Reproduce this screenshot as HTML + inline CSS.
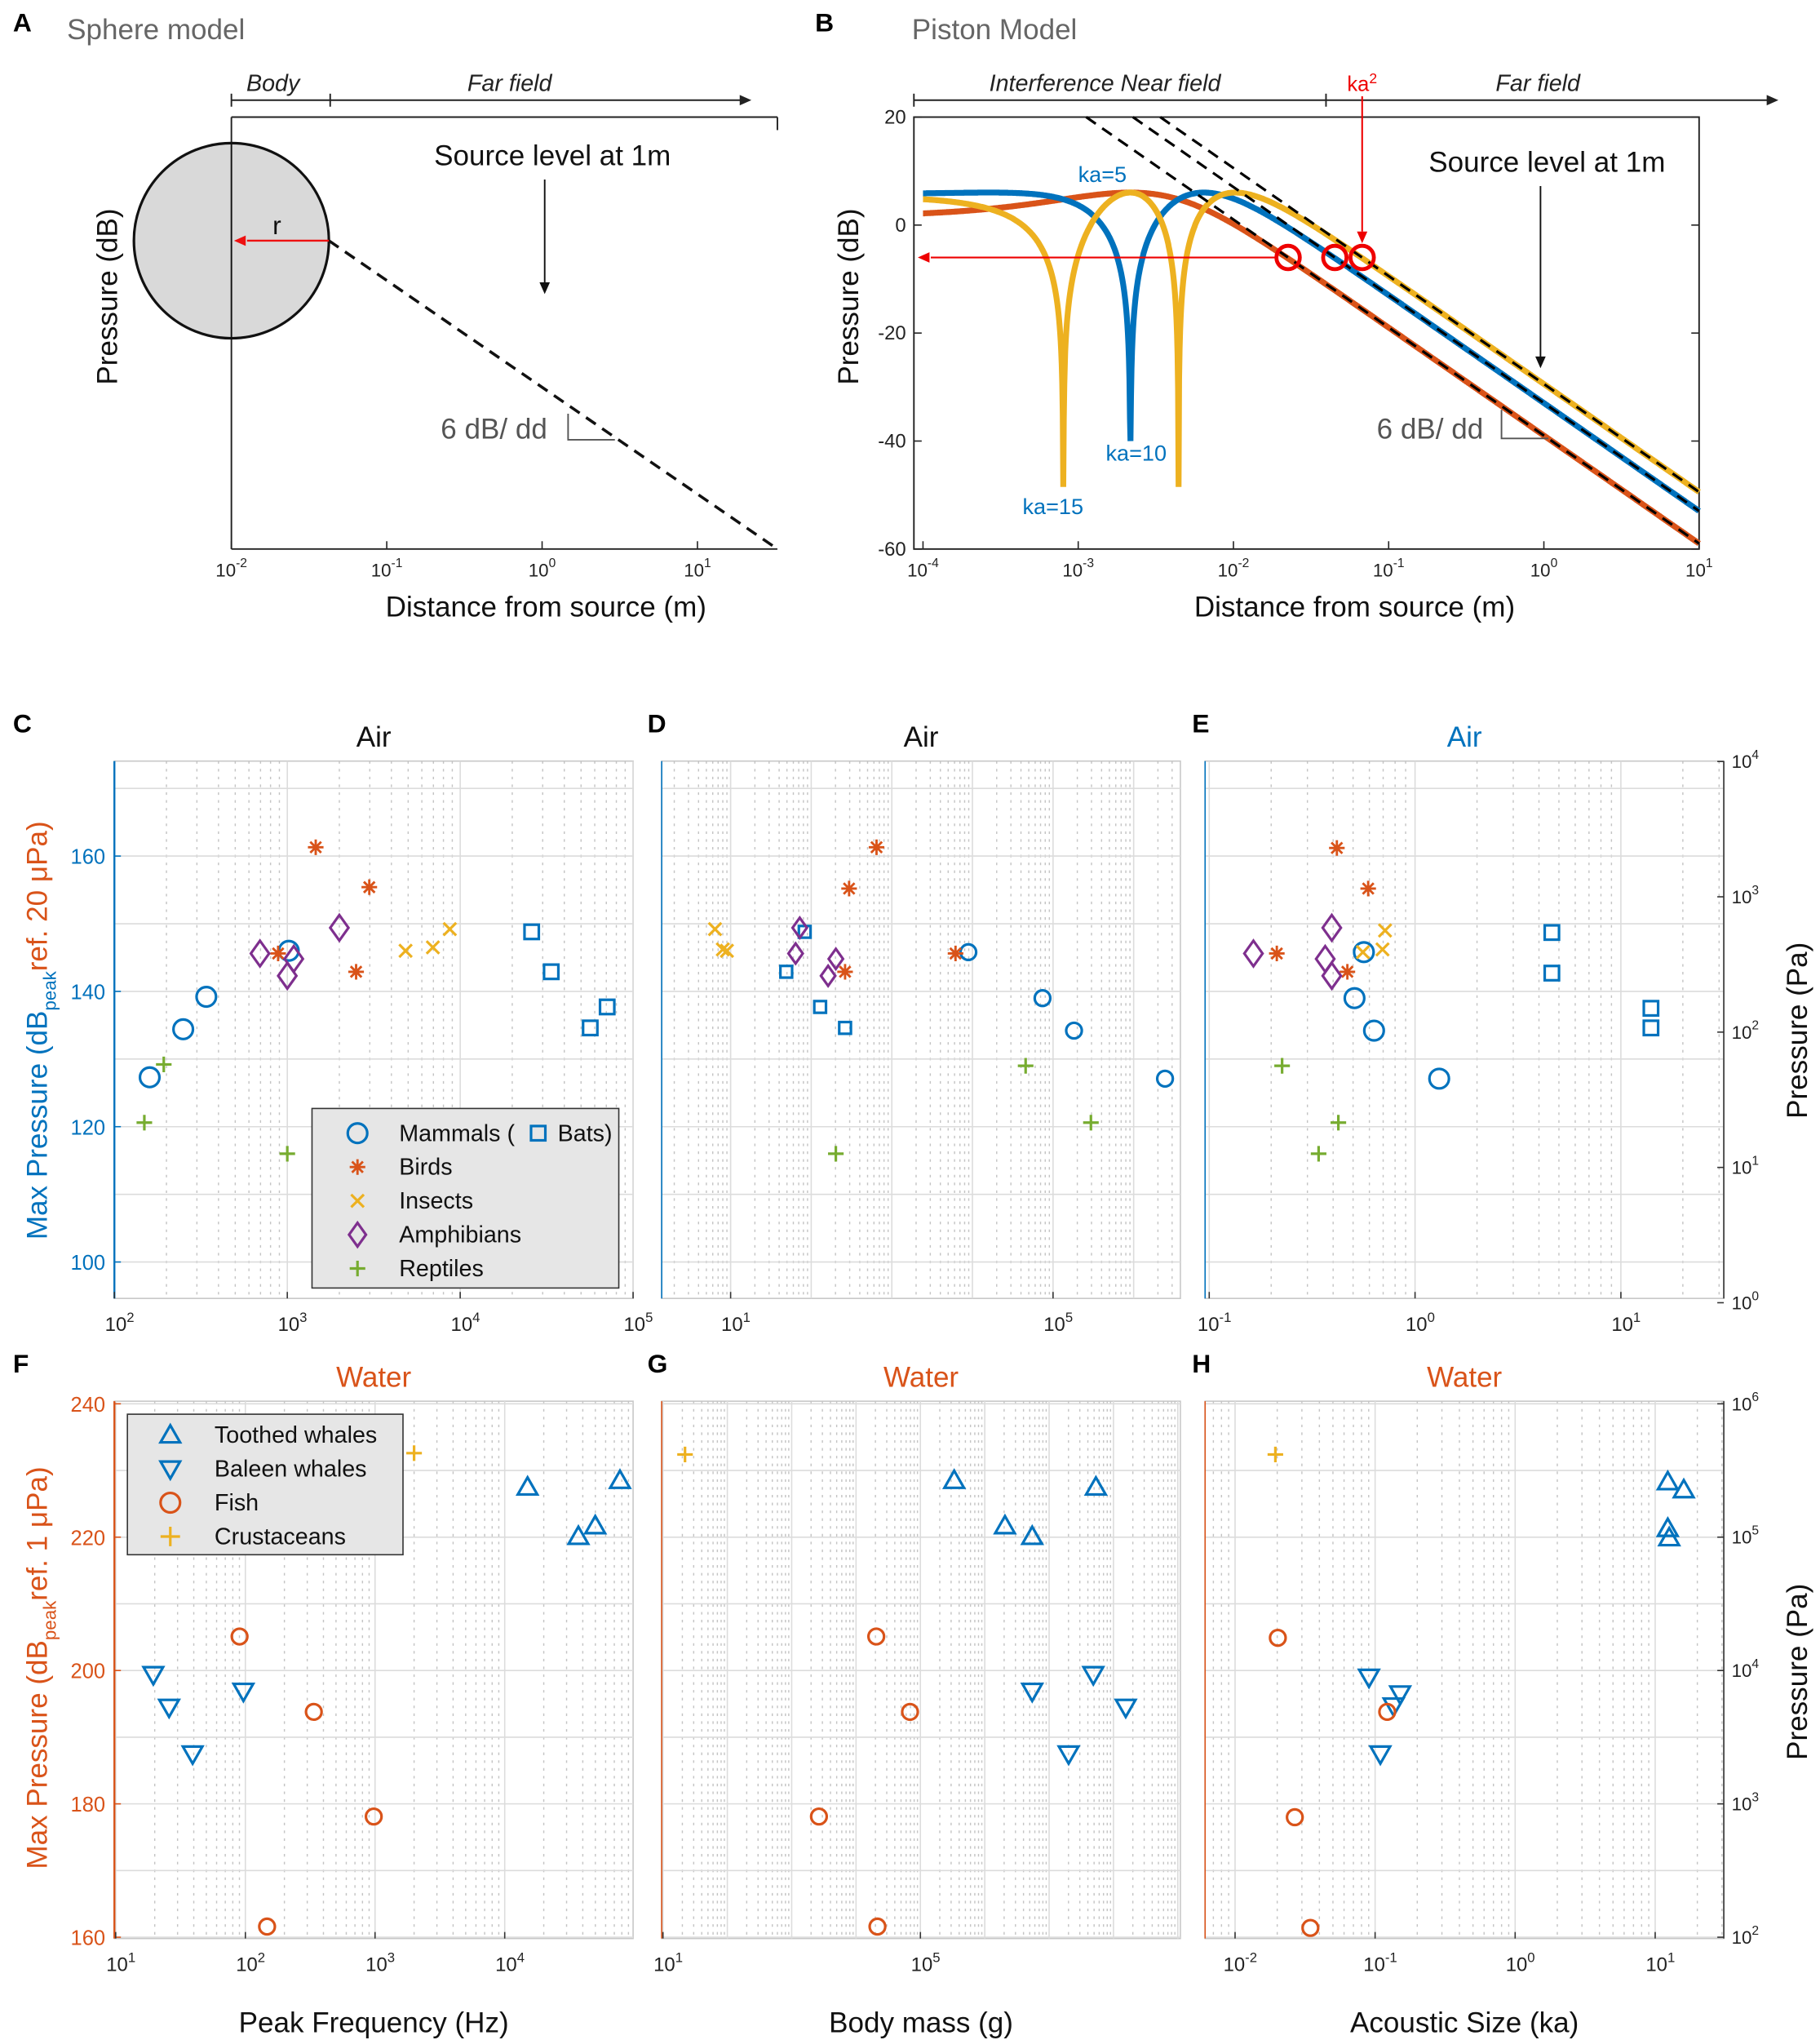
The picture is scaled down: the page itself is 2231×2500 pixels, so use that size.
<!DOCTYPE html>
<html><head><meta charset="utf-8"><title>Sphere and piston models; max pressure in air and water</title>
<style>
html,body{margin:0;padding:0;background:#fff;}
svg{display:block;font-family:"Liberation Sans",Arial,sans-serif;}
</style></head>
<body>
<svg id="fig" width="2231" height="2500" viewBox="0 0 1400 1568" preserveAspectRatio="none" xmlns="http://www.w3.org/2000/svg"></svg>
<script>
// ---------- Panel B model parameters ----------
const pistonKa = [5, 10, 15];
const pistonRadius = 0.0045;
// ---------- Panel C (x: peak frequency Hz, y: dB) ----------
const C_mammals_x = [160, 250, 340, 1020];
const C_mammals_y = [127.3, 134.4, 139.2, 146.0];
const C_bats_x = [25900, 33600, 56500, 70800];
const C_bats_y = [148.8, 142.9, 134.6, 137.7];
const C_birds_x = [1460, 2980, 885, 2500];
const C_birds_y = [161.3, 155.4, 145.6, 142.9];
const C_insects_x = [4830, 6950, 8710];
const C_insects_y = [146.0, 146.5, 149.2];
const C_amph_x = [695, 2000, 1000, 1090];
const C_amph_y = [145.6, 149.4, 142.3, 144.8];
const C_rept_x = [149, 193, 1000];
const C_rept_y = [120.6, 129.2, 116.0];
// ---------- Panel D (x: body mass g) ----------
const D_mammals_x = [8900, 74000, 182000, 2450000];
const D_mammals_y = [145.8, 139.0, 134.2, 127.1];
const D_bats_x = [83, 49, 129, 263];
const D_bats_y = [148.8, 142.9, 137.7, 134.6];
const D_birds_x = [646, 295, 263, 6170];
const D_birds_y = [161.3, 155.2, 142.9, 145.6];
const D_insects_x = [6.4, 8.0, 9.0];
const D_insects_y = [149.2, 146.2, 146.0];
const D_amph_x = [72, 64, 202, 162];
const D_amph_y = [149.4, 145.6, 144.8, 142.3];
const D_rept_x = [202, 45700, 295000];
const D_rept_y = [116.0, 129.0, 120.6];
// ---------- Panel E (x: acoustic size ka) ----------
const E_mammals_x = [0.564, 0.508, 0.632, 1.31];
const E_mammals_y = [145.8, 139.0, 134.2, 127.1];
const E_bats_x = [4.62, 4.62, 14.0, 14.0];
const E_bats_y = [148.7, 142.7, 137.5, 134.6];
const E_birds_x = [0.417, 0.592, 0.213, 0.469];
const E_birds_y = [161.2, 155.2, 145.6, 142.9];
const E_insects_x = [0.715, 0.695, 0.558];
const E_insects_y = [149.0, 146.2, 145.8];
const E_amph_x = [0.164, 0.394, 0.366, 0.394];
const E_amph_y = [145.6, 149.4, 144.8, 142.3];
const E_rept_x = [0.226, 0.424, 0.340];
const E_rept_y = [129.0, 120.6, 116.0];
// ---------- Panel F (x: peak frequency Hz) ----------
const F_toothed_x = [15000, 37000, 49900, 77400];
const F_toothed_y = [227.5, 220.1, 221.7, 228.5];
const F_baleen_x = [19.5, 25.8, 39.2, 96.6];
const F_baleen_y = [199.4, 194.5, 187.5, 196.9];
const F_fish_x = [90.2, 337, 977, 147];
const F_fish_y = [205.1, 193.8, 178.1, 161.6];
const F_crust_x = [2000];
const F_crust_y = [232.6];
// ---------- Panel G (x: body mass g) ----------
const G_toothed_x = [335000, 2060000, 5460000, 53300000];
const G_toothed_y = [228.5, 221.7, 220.1, 227.5];
const G_baleen_x = [5460000, 20100000, 48600000, 155000000];
const G_baleen_y = [196.9, 187.5, 199.4, 194.5];
const G_fish_x = [20600, 68900, 2650, 21500];
const G_fish_y = [205.1, 193.8, 178.1, 161.6];
const G_crust_x = [22];
const G_crust_y = [232.4];
// ---------- Panel H (x: acoustic size ka) ----------
const H_toothed_x = [12.3, 16.0, 12.3, 12.6];
const H_toothed_y = [228.3, 227.1, 221.3, 219.9];
const H_baleen_x = [0.0904, 0.1355, 0.151, 0.109];
const H_baleen_y = [199.0, 194.7, 196.5, 187.5];
const H_fish_x = [0.0202, 0.122, 0.0267, 0.0345];
const H_fish_y = [204.9, 193.8, 178.0, 161.4];
const H_crust_x = [0.0194];
const H_crust_y = [232.4];

const NS = 'http://www.w3.org/2000/svg';
const svg = document.getElementById('fig');
const BLUE = '#0072BD', ORANGE = '#D95319', YELLOW = '#EDB120', PURPLE = '#7E2F8E', GREEN = '#77AC30';

function mk(tag, attrs, parent, name) {
  const el = document.createElementNS(NS, tag);
  for (const k in attrs) el.setAttribute(k, attrs[k]);
  
  
  (parent || svg).appendChild(el);
  return el;
}
function txt(x, y, s, o, name, parent) {
  o = o || {};
  const t = mk('text', {x: x, y: y, 'font-size': o.size || 14, fill: o.fill || '#222',
    'text-anchor': o.anchor || 'middle', 'font-weight': o.weight || 'normal',
    'font-style': o.style || 'normal'}, parent, name);
  if (o.rot) t.setAttribute('transform', 'rotate(' + o.rot + ' ' + x + ' ' + y + ')');
  t.textContent = s;
  return t;
}
function pow10(x, y, e, o, name, parent) {
  o = o || {};
  const t = mk('text', {x: x, y: y, 'font-size': o.size || 14, fill: o.fill || '#222',
    'text-anchor': o.anchor || 'middle'}, parent, name);
  const a = document.createElementNS(NS, 'tspan'); a.textContent = '10'; t.appendChild(a);
  const b = document.createElementNS(NS, 'tspan'); b.setAttribute('dy', '-7');
  b.setAttribute('font-size', (o.size || 14) * 0.7); b.textContent = e; t.appendChild(b);
  return t;
}
function line(x1, y1, x2, y2, st, w, name, parent, dash) {
  const l = mk('line', {x1: x1, y1: y1, x2: x2, y2: y2, stroke: st, 'stroke-width': w}, parent, name);
  if (dash) l.setAttribute('stroke-dasharray', dash);
  return l;
}
function arrowHead(x, y, dir, col, name, parent) {
  const s = 9, w = 4;
  let p;
  if (dir === 'right') p = [[x, y], [x - s, y - w], [x - s, y + w]];
  if (dir === 'left') p = [[x, y], [x + s, y - w], [x + s, y + w]];
  if (dir === 'down') p = [[x, y], [x - w, y - s], [x + w, y - s]];
  mk('polygon', {points: p.map(q => q.join(',')).join(' '), fill: col}, parent, name);
}
function marker(g, type, cx, cy, col, sz, name) {
  const sw = 2;
  if (type === 'circle') mk('circle', {cx: cx, cy: cy, r: sz, fill: 'none', stroke: col, 'stroke-width': sw}, g, name);
  else if (type === 'square') mk('rect', {x: cx - sz, y: cy - sz, width: 2 * sz, height: 2 * sz, fill: 'none', stroke: col, 'stroke-width': sw}, g, name);
  else if (type === 'diamond') mk('polygon', {points: [cx, cy - sz * 1.4, cx + sz, cy, cx, cy + sz * 1.4, cx - sz, cy].join(','), fill: 'none', stroke: col, 'stroke-width': sw}, g, name);
  else if (type === 'triUp') mk('polygon', {points: [cx, cy - sz, cx + sz, cy + sz * 0.75, cx - sz, cy + sz * 0.75].join(','), fill: 'none', stroke: col, 'stroke-width': sw}, g, name);
  else if (type === 'triDown') mk('polygon', {points: [cx, cy + sz, cx + sz, cy - sz * 0.75, cx - sz, cy - sz * 0.75].join(','), fill: 'none', stroke: col, 'stroke-width': sw}, g, name);
  else if (type === 'plus') mk('path', {d: `M${cx - sz} ${cy}H${cx + sz}M${cx} ${cy - sz}V${cy + sz}`, stroke: col, 'stroke-width': sw, fill: 'none'}, g, name);
  else if (type === 'x') { const d = sz * 0.75; mk('path', {d: `M${cx - d} ${cy - d}L${cx + d} ${cy + d}M${cx - d} ${cy + d}L${cx + d} ${cy - d}`, stroke: col, 'stroke-width': sw, fill: 'none'}, g, name); }
  else if (type === 'asterisk') { const d = sz * 0.7; mk('path', {d: `M${cx - sz} ${cy}H${cx + sz}M${cx} ${cy - sz}V${cy + sz}M${cx - d} ${cy - d}L${cx + d} ${cy + d}M${cx - d} ${cy + d}L${cx + d} ${cy - d}`, stroke: col, 'stroke-width': 1.8, fill: 'none'}, g, name); }
}

// ================= Panel A =================
(function () {
  const g = mk('g', {}, svg, 'panel-a-sphere-model');
  txt(10, 24, 'A', {size: 20, weight: 'bold', anchor: 'start', fill: '#000'}, 'panel-label-a', g);
  txt(120, 30, 'Sphere model', {size: 22, fill: '#666'}, 'panel-a-title', g);
  const ax = mk('g', {}, g, 'panel-a-axes');
  line(178, 90, 598, 90, '#222', 1.2, 'top-axis', ax);
  line(178, 90, 178, 422, '#222', 1.2, 'y-axis', ax);
  line(178, 422, 598, 422, '#222', 1.2, 'x-axis', ax);
  line(598, 90, 598, 100, '#222', 1.2, 'right-tick', ax);
  const xA = L => 178 + (L + 2) * 119.5;
  [-2, -1, 0, 1].forEach(L => { line(xA(L), 422, xA(L), 416, '#222', 1, 'x-tick', ax); pow10(xA(L), 443, String(L), {size: 14}, 'x-tick-label', ax); });
  txt(420, 474, 'Distance from source (m)', {size: 22, fill: '#111'}, 'x-axis-title', g);
  txt(90, 228, 'Pressure (dB)', {size: 22, fill: '#111', rot: -90}, 'y-axis-title', g);
  line(178, 77, 570, 77, '#222', 1.2, 'zone-axis', g); arrowHead(578, 77, 'right', '#222', 'zone-arrow-head', g);
  line(178, 72, 178, 82, '#222', 1.2, 'zone-tick', g); line(254, 72, 254, 82, '#222', 1.2, 'zone-tick', g);
  txt(210, 70, 'Body', {size: 18, style: 'italic'}, 'body-zone-label', g);
  txt(392, 70, 'Far field', {size: 18, style: 'italic'}, 'far-field-label', g);
  mk('circle', {cx: 178, cy: 185, r: 75, fill: '#d9d9d9', stroke: '#111', 'stroke-width': 2}, g, 'sphere');
  line(178, 110, 178, 260, '#111', 1.2, 'sphere-axis', g);
  line(253, 185, 598, 422, '#111', 2.2, 'spreading-line', g, '9,6');
  line(253, 185, 190, 185, '#e11', 1.5, 'radius-arrow', g); arrowHead(180, 185, 'left', '#e11', 'radius-arrow-head', g);
  txt(213, 180, 'r', {size: 20, fill: '#111'}, 'radius-label', g);
  txt(425, 127, 'Source level at 1m', {size: 22, fill: '#111'}, 'source-level-label', g);
  line(419, 138, 419, 218, '#111', 1.2, 'source-level-arrow', g); arrowHead(419, 226, 'down', '#111', 'source-level-arrow-head', g);
  txt(380, 337, '6 dB/ dd', {size: 22, fill: '#555'}, 'slope-label', g);
  mk('path', {d: 'M437 318V338H473', fill: 'none', stroke: '#555', 'stroke-width': 1.2}, g, 'slope-marker');
})();

// ================= Panel B =================
(function () {
  const g = mk('g', {}, svg, 'panel-b-piston-model');
  txt(627, 24, 'B', {size: 20, weight: 'bold', anchor: 'start', fill: '#000'}, 'panel-label-b', g);
  txt(765, 30, 'Piston Model', {size: 22, fill: '#666'}, 'panel-b-title', g);
  const X0 = 703, X1 = 1307, Y0 = 90, Y1 = 422;
  const sx = z => 1307 + (Math.log10(z) - 1) * 119.4;
  const sy = db => 173 - db * 4.15;
  const ax = mk('g', {}, g, 'panel-b-axes');
  mk('rect', {x: X0, y: Y0, width: X1 - X0, height: Y1 - Y0, fill: 'none', stroke: '#222', 'stroke-width': 1.2}, ax, 'plot-frame');
  [20, 0, -20, -40, -60].forEach(v => { line(X0, sy(v), X0 + 6, sy(v), '#222', 1, 'y-tick', ax); line(X1, sy(v), X1 - 6, sy(v), '#222', 1, 'y-tick-right', ax); txt(697, sy(v) + 5, String(v), {size: 15, anchor: 'end'}, 'y-tick-label', ax); });
  [-4, -3, -2, -1, 0, 1].forEach(L => { const x = sx(Math.pow(10, L)); line(x, Y1, x, Y1 - 6, '#222', 1, 'x-tick', ax); pow10(x, 443, String(L), {size: 14}, 'x-tick-label', ax); });
  txt(1042, 474, 'Distance from source (m)', {size: 22, fill: '#111'}, 'x-axis-title', g);
  txt(660, 228, 'Pressure (dB)', {size: 22, fill: '#111', rot: -90}, 'y-axis-title', g);
  line(703, 77, 1360, 77, '#222', 1.2, 'zone-axis', g); arrowHead(1368, 77, 'right', '#222', 'zone-arrow-head', g);
  line(703, 72, 703, 82, '#222', 1.2, 'zone-tick', g); line(1020, 72, 1020, 82, '#222', 1.2, 'zone-tick', g);
  txt(850, 70, 'Interference Near field', {size: 18, style: 'italic'}, 'near-field-label', g);
  txt(1183, 70, 'Far field', {size: 18, style: 'italic'}, 'far-field-label', g);
  const cols = [ORANGE, BLUE, YELLOW];
  const curves = mk('g', {}, g, 'piston-curves');
  pistonKa.forEach((ka, i) => {
    const c = ka * pistonRadius;
    let d = '';
    for (let j = 0; j <= 1500; j++) {
      const z = Math.pow(10, -4 + 5 * j / 1500);
      const za = z / pistonRadius;
      let p = 2 * Math.abs(Math.sin(ka / 2 * (Math.sqrt(za * za + 1) - za)));
      let db = 20 * Math.log10(Math.max(p, 1e-9));
      if (z < c) db = Math.max(db, ka === 10 ? -40 : -48.5);
      d += (j ? 'L' : 'M') + sx(z).toFixed(1) + ' ' + sy(db).toFixed(1);
    }
    mk('path', {d: d, fill: 'none', stroke: cols[i], 'stroke-width': 4.5}, curves, 'piston-curve-ka' + ka);
  });
  pistonKa.forEach((ka, i) => {
    const c = ka * pistonRadius;
    const zStart = c / 20, zEnd = 10;
    const dbF = z => 20 * Math.log10(c / (2 * z));
    line(sx(zStart), sy(dbF(zStart)), sx(zEnd), sy(dbF(zEnd)), '#000', 2, 'far-field-asymptote-ka' + ka, curves, '9,6');
  });
  pistonKa.forEach((ka, i) => {
    const c = ka * pistonRadius;
    mk('circle', {cx: sx(c), cy: sy(-6), r: 9, fill: 'none', stroke: '#e00', 'stroke-width': 3}, curves, 'ka2-crossing-ka' + ka);
  });
  const cmin = pistonKa[0] * pistonRadius, cmax = pistonKa[pistonKa.length - 1] * pistonRadius;
  line(sx(cmin) - 9, sy(-6), 716, sy(-6), '#e00', 1.3, 'level-arrow', g); arrowHead(706, sy(-6), 'left', '#e00', 'level-arrow-head', g);
  line(sx(cmax), 74, sx(cmax), 178, '#e00', 1.3, 'ka2-arrow', g); arrowHead(sx(cmax), 187, 'down', '#e00', 'ka2-arrow-head', g);
  const k2 = txt(sx(cmax), 70, 'ka', {size: 16, fill: '#e00'}, 'ka2-label', g);
  const sup = document.createElementNS(NS, 'tspan'); sup.setAttribute('dy', '-6'); sup.setAttribute('font-size', '11'); sup.textContent = '2'; k2.appendChild(sup);
  txt(848, 140, 'ka=5', {size: 17, fill: BLUE}, 'ka5-label', g);
  txt(874, 354, 'ka=10', {size: 17, fill: BLUE}, 'ka10-label', g);
  txt(810, 395, 'ka=15', {size: 17, fill: BLUE}, 'ka15-label', g);
  txt(1190, 132, 'Source level at 1m', {size: 22, fill: '#111'}, 'source-level-label', g);
  line(1185, 143, 1185, 275, '#111', 1.2, 'source-level-arrow', g); arrowHead(1185, 283, 'down', '#111', 'source-level-arrow-head', g);
  txt(1100, 337, '6 dB/ dd', {size: 22, fill: '#555'}, 'slope-label', g);
  mk('path', {d: 'M1155 315V337H1191', fill: 'none', stroke: '#555', 'stroke-width': 1.2}, g, 'slope-marker');
})();

// ================= scatter panels =================
function panel(cfg) {
  const g = mk('g', {}, svg, cfg.name);
  const {x0, x1, y0, y1, Lmin, Lmax} = cfg;
  const sx = v => x0 + (Math.log10(v) - Lmin) / (Lmax - Lmin) * (x1 - x0);
  const sy = cfg.sy;
  mk('rect', {x: x0, y: y0, width: x1 - x0, height: y1 - y0, fill: '#fff', stroke: '#c8c8c8', 'stroke-width': 1}, g, 'plot-area');
  const grid = mk('g', {}, g, 'grid');
  for (let d = Math.floor(Lmin); d <= Math.ceil(Lmax); d++) {
    for (let m = 1; m <= 9; m++) {
      const L = d + Math.log10(m);
      if (L < Lmin || L > Lmax) continue;
      const x = sx(Math.pow(10, L));
      if (m === 1) line(x, y0, x, y1, '#dcdcdc', 1, 'major-grid-x', grid);
      else line(x, y0, x, y1, '#c4c4c4', 0.9, 'minor-grid-x', grid, '2,4');
    }
  }
  cfg.yGrid.forEach(v => line(x0, sy(v), x1, sy(v), '#dcdcdc', 1, 'major-grid-y', grid));
  cfg.yTicks.forEach(v => { line(x0, sy(v), x0 + 5, sy(v), cfg.leftCol, 1, 'y-tick', g); });
  if (cfg.leftAxis) {
    line(x0, y0, x0, y1, cfg.leftCol, 1.5, 'left-axis', g);
    cfg.yTicks.forEach(v => txt(x0 - 7, sy(v) + 6, String(v), {size: 16, anchor: 'end', fill: cfg.leftCol}, 'y-tick-label', g));
  } else line(x0, y0, x0, y1, cfg.leftCol, 1, 'left-axis', g);
  if (cfg.rightTicks) {
    line(x1, y0, x1, y1, '#333', 1, 'right-axis', g);
    cfg.rightTicks.forEach(e => { const y = sy(cfg.paToDb(Math.pow(10, e))); line(x1, y, x1 - 5, y, '#333', 1, 'right-tick', g); pow10(x1 + 6, y + 5, String(e), {size: 14, anchor: 'start'}, 'right-tick-label', g); });
  }
  cfg.xTicks.forEach(e => { const x = sx(Math.pow(10, e)); line(x, y1, x, y1 - 5, '#333', 1, 'x-tick', g); pow10(x + 4, y1 + 25, String(e), {size: 15}, 'x-tick-label', g); });
  txt((x0 + x1) / 2, y0 - 11, cfg.title, {size: 22, fill: cfg.titleCol}, 'panel-title', g);
  txt(cfg.letterX, y0 - 22, cfg.letter, {size: 20, weight: 'bold', anchor: 'start', fill: '#000'}, 'panel-label', g);
  if (cfg.xLabel) txt((x0 + x1) / 2, 1562, cfg.xLabel, {size: 22, fill: '#111'}, 'x-axis-title', g);
  const marks = mk('g', {}, g, 'data-points');
  cfg.series.forEach(s => {
    const sg = mk('g', {}, marks, 'series-' + s.key);
    s.x.forEach((v, i) => marker(sg, s.type, sx(v), sy(s.y[i]), s.col, s.size, s.key + '-point'));
  });
  return g;
}
const syTop = v => 970 - (v - 100) * 5.2;
const syBot = v => 1489 - (v - 160) * 5.125;
const airGridY = [100, 110, 120, 130, 140, 150, 160, 170];
const waterGridY = [160, 170, 180, 190, 200, 210, 220, 230, 240];
function airSeries(p, big) {
  return [
    {key: 'mammals', x: p.mx, y: p.my, type: 'circle', col: BLUE, size: big ? 7.5 : 6},
    {key: 'bats', x: p.bx, y: p.by, type: 'square', col: BLUE, size: big ? 5.5 : 4.5},
    {key: 'birds', x: p.brx, y: p.bry, type: 'asterisk', col: ORANGE, size: 6},
    {key: 'insects', x: p.ix, y: p.iy, type: 'x', col: YELLOW, size: 6.5},
    {key: 'amphibians', x: p.ax, y: p.ay, type: 'diamond', col: PURPLE, size: big ? 7 : 5.5},
    {key: 'reptiles', x: p.rx, y: p.ry, type: 'plus', col: GREEN, size: 6}];
}
function waterSeries(p) {
  return [
    {key: 'toothed-whales', x: p.tx, y: p.ty, type: 'triUp', col: BLUE, size: 7.5},
    {key: 'baleen-whales', x: p.bx, y: p.by, type: 'triDown', col: BLUE, size: 7.5},
    {key: 'fish', x: p.fx, y: p.fy, type: 'circle', col: ORANGE, size: 6},
    {key: 'crustaceans', x: p.cx, y: p.cy, type: 'plus', col: YELLOW, size: 6}];
}
const paToDbAir = pa => 20 * Math.log10(pa / 20e-6);
const paToDbWater = pa => 20 * Math.log10(pa / 1e-6);

panel({name: 'panel-c-air-frequency', letter: 'C', letterX: 10, title: 'Air', titleCol: '#111', x0: 88, x1: 487, y0: 585, y1: 998, Lmin: 2, Lmax: 5, sy: syTop, yGrid: airGridY, yTicks: [100, 120, 140, 160], leftAxis: true, leftCol: BLUE, xTicks: [2, 3, 4, 5],
  series: airSeries({mx: C_mammals_x, my: C_mammals_y, bx: C_bats_x, by: C_bats_y, brx: C_birds_x, bry: C_birds_y, ix: C_insects_x, iy: C_insects_y, ax: C_amph_x, ay: C_amph_y, rx: C_rept_x, ry: C_rept_y}, true)});
panel({name: 'panel-d-air-mass', letter: 'D', letterX: 498, title: 'Air', titleCol: '#111', x0: 509, x1: 908, y0: 585, y1: 998, Lmin: 0.145, Lmax: 6.58, sy: syTop, yGrid: airGridY, yTicks: [], leftAxis: false, leftCol: BLUE, xTicks: [1, 5],
  series: airSeries({mx: D_mammals_x, my: D_mammals_y, bx: D_bats_x, by: D_bats_y, brx: D_birds_x, bry: D_birds_y, ix: D_insects_x, iy: D_insects_y, ax: D_amph_x, ay: D_amph_y, rx: D_rept_x, ry: D_rept_y}, false)});
panel({name: 'panel-e-air-acoustic-size', letter: 'E', letterX: 917, title: 'Air', titleCol: BLUE, x0: 927, x1: 1326, y0: 585, y1: 998, Lmin: -1.02, Lmax: 1.50, sy: syTop, yGrid: airGridY, yTicks: [], leftAxis: false, leftCol: BLUE, xTicks: [-1, 0, 1], rightTicks: [0, 1, 2, 3, 4], paToDb: paToDbAir,
  series: airSeries({mx: E_mammals_x, my: E_mammals_y, bx: E_bats_x, by: E_bats_y, brx: E_birds_x, bry: E_birds_y, ix: E_insects_x, iy: E_insects_y, ax: E_amph_x, ay: E_amph_y, rx: E_rept_x, ry: E_rept_y}, true)});
panel({name: 'panel-f-water-frequency', letter: 'F', letterX: 10, title: 'Water', titleCol: ORANGE, x0: 88, x1: 487, y0: 1077, y1: 1490, Lmin: 0.99, Lmax: 4.99, sy: syBot, yGrid: waterGridY, yTicks: [160, 180, 200, 220, 240], leftAxis: true, leftCol: ORANGE, xTicks: [1, 2, 3, 4], xLabel: 'Peak Frequency (Hz)',
  series: waterSeries({tx: F_toothed_x, ty: F_toothed_y, bx: F_baleen_x, by: F_baleen_y, fx: F_fish_x, fy: F_fish_y, cx: F_crust_x, cy: F_crust_y})});
panel({name: 'panel-g-water-mass', letter: 'G', letterX: 498, title: 'Water', titleCol: ORANGE, x0: 509, x1: 908, y0: 1077, y1: 1490, Lmin: 0.98, Lmax: 9.04, sy: syBot, yGrid: waterGridY, yTicks: [], leftAxis: false, leftCol: ORANGE, xTicks: [1, 5], xLabel: 'Body mass (g)',
  series: waterSeries({tx: G_toothed_x, ty: G_toothed_y, bx: G_baleen_x, by: G_baleen_y, fx: G_fish_x, fy: G_fish_y, cx: G_crust_x, cy: G_crust_y})});
panel({name: 'panel-h-water-acoustic-size', letter: 'H', letterX: 917, title: 'Water', titleCol: ORANGE, x0: 927, x1: 1326, y0: 1077, y1: 1490, Lmin: -2.214, Lmax: 1.49, sy: syBot, yGrid: waterGridY, yTicks: [], leftAxis: false, leftCol: ORANGE, xTicks: [-2, -1, 0, 1], rightTicks: [2, 3, 4, 5, 6], paToDb: paToDbWater, xLabel: 'Acoustic Size (ka)',
  series: waterSeries({tx: H_toothed_x, ty: H_toothed_y, bx: H_baleen_x, by: H_baleen_y, fx: H_fish_x, fy: H_fish_y, cx: H_crust_x, cy: H_crust_y})});

// ---------- y-axis titles ----------
(function () {
  function yTitle(x, y, parts, name) {
    const t = mk('text', {x: x, y: y, 'font-size': 22, 'text-anchor': 'middle', transform: `rotate(-90 ${x} ${y})`}, svg, name);
    parts.forEach(p => { const s = document.createElementNS(NS, 'tspan'); s.textContent = p.t; s.setAttribute('fill', p.c); if (p.dy) s.setAttribute('dy', p.dy); if (p.fs) s.setAttribute('font-size', p.fs); t.appendChild(s); });
  }
  yTitle(36, 792, [{t: 'Max Pressure (dB', c: BLUE}, {t: 'peak', c: BLUE, dy: 7, fs: 14}, {t: 'ref. 20 \u03bcPa)', c: ORANGE, dy: -7}], 'y-axis-title-air');
  yTitle(36, 1282, [{t: 'Max Pressure (dB', c: ORANGE}, {t: 'peak', c: ORANGE, dy: 7, fs: 14}, {t: 'ref. 1 \u03bcPa)', c: ORANGE, dy: -7}], 'y-axis-title-water');
  txt(1390, 792, 'Pressure (Pa)', {size: 22, fill: '#111', rot: -90}, 'right-axis-title-air');
  txt(1390, 1285, 'Pressure (Pa)', {size: 22, fill: '#111', rot: -90}, 'right-axis-title-water');
})();

// ---------- legends ----------
(function () {
  const lg = mk('g', {}, svg, 'legend-air');
  mk('rect', {x: 240, y: 852, width: 236, height: 138, fill: '#e6e6e6', stroke: '#333', 'stroke-width': 1}, lg, 'legend-box');
  const items = [['circle', BLUE, 'Mammals (', 7.5], ['asterisk', ORANGE, 'Birds', 6], ['x', YELLOW, 'Insects', 6.5], ['diamond', PURPLE, 'Amphibians', 6.5], ['plus', GREEN, 'Reptiles', 6]];
  items.forEach((it, i) => { const y = 871 + i * 26; marker(lg, it[0], 275, y, it[1], it[3], 'legend-marker'); txt(307, y + 6, it[2], {size: 18, anchor: 'start', fill: '#111'}, 'legend-entry', lg); });
  marker(lg, 'square', 414, 871, BLUE, 5.5, 'legend-marker-bats');
  txt(429, 877, 'Bats)', {size: 18, anchor: 'start', fill: '#111'}, 'legend-entry', lg);
  const lw = mk('g', {}, svg, 'legend-water');
  mk('rect', {x: 98, y: 1087, width: 212, height: 108, fill: '#e6e6e6', stroke: '#333', 'stroke-width': 1}, lw, 'legend-box');
  const w = [['triUp', BLUE, 'Toothed whales'], ['triDown', BLUE, 'Baleen whales'], ['circle', ORANGE, 'Fish'], ['plus', YELLOW, 'Crustaceans']];
  w.forEach((it, i) => { const y = 1103 + i * 26; marker(lw, it[0], 131, y, it[1], 7.5, 'legend-marker'); txt(165, y + 6, it[2], {size: 18, anchor: 'start', fill: '#111'}, 'legend-entry', lw); });
})();
</script>
</body></html>
